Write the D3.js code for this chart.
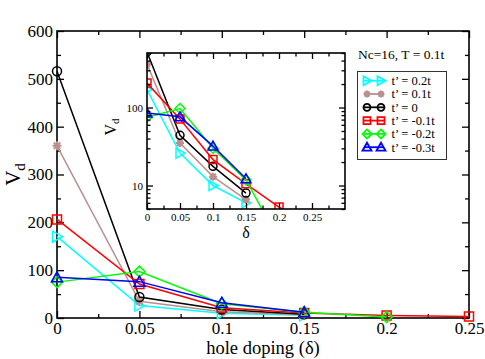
<!DOCTYPE html>
<html>
<head>
<meta charset="utf-8">
<script src="https://cdn.jsdelivr.net/npm/d3@7"></script>
<style>
  body { margin: 0; background: #fff; }
  svg { font-family: "Liberation Serif", "DejaVu Serif", serif; }
</style>
</head>
<body>
<div id="chart"></div>
<script>
// doping values for each series
const dopingShort = [0, 0.05, 0.1, 0.15];
const dopingGreen = [0, 0.05, 0.1, 0.15, 0.2];
const dopingRed = [0, 0.05, 0.1, 0.15, 0.2, 0.25];

const vdTp02 = [170, 26, 10, 6];
const vdTp01 = [360, 35, 13, 6.6];
const vdTp0 = [516, 44, 17.6, 8];
const vdTm01 = [206, 71, 21.5, 10.5, 5.3, 3];
const vdTm02 = [75, 97, 30, 11.8, 2];
const vdTm03 = [85, 76, 32, 12.2];

const seriesLabels = ["t\u2019 = 0.2t", "t\u2019 = 0.1t", "t\u2019 = 0", "t\u2019 = -0.1t", "t\u2019 = -0.2t", "t\u2019 = -0.3t"];

const mainXTicks = [0, 0.05, 0.1, 0.15, 0.2, 0.25];
const mainYTicks = [0, 100, 200, 300, 400, 500, 600];
const insetXTicks = [0, 0.05, 0.1, 0.15, 0.2, 0.25];
const insetYTicks = [10, 100];

const series = [
    { name: seriesLabels[0], x: dopingShort, y: vdTp02, color: "#00ffff", sym: "triR" },
    { name: seriesLabels[1], x: dopingShort, y: vdTp01, color: "#bc8f8f", sym: "star" },
    { name: seriesLabels[2], x: dopingShort, y: vdTp0, color: "#000000", sym: "circle" },
    { name: seriesLabels[3], x: dopingRed, y: vdTm01, color: "#ff0000", sym: "square" },
    { name: seriesLabels[4], x: dopingGreen, y: vdTm02, color: "#00ff00", sym: "diamond" },
    { name: seriesLabels[5], x: dopingShort, y: vdTm03, color: "#0000ff", sym: "triU" }
];

const width = 485, height = 359;
const svg = d3.select("#chart").append("svg")
    .attr("width", width)
    .attr("height", height);

function symbolPath(sym, s) {
    const h = s / 2;
    switch (sym) {
        case "circle": return `M${-h},0A${h},${h} 0 1,0 ${h},0A${h},${h} 0 1,0 ${-h},0Z`;
        case "square": return `M${-h},${-h}H${h}V${h}H${-h}Z`;
        case "diamond": return `M0,${-h - 1}L${h + 1},0L0,${h + 1}L${-h - 1},0Z`;
        case "triU": return `M0,${-h - 1}L${h + 1},${h}L${-h - 1},${h}Z`;
        case "triR": return `M${h + 1},0L${-h},${-h - 1}L${-h},${h + 1}Z`;
        case "star": {
            const d = h * 0.72;
            return `M0,${-h}V${h}M${-h},0H${h}M${-d},${-d}L${d},${d}M${-d},${d}L${d},${-d}`;
        }
    }
}

function drawSeries(g, xs, ys, size, clipId) {
    const line = d3.line().x(d => xs(d[0])).y(d => ys(d[1]));
    const grp = g.append("g");
    if (clipId) grp.attr("clip-path", `url(#${clipId})`);
    series.forEach(s => {
        const pts = s.x.map((v, i) => [v, s.y[i]]);
        grp.append("path")
            .attr("d", line(pts))
            .attr("fill", "none")
            .attr("stroke", s.color)
            .attr("stroke-width", 1.5);
        grp.selectAll(null)
            .data(pts.filter(p => ys.domain()[0] <= p[1] && p[1] <= ys.domain()[1] * 1.05))
            .enter().append("path")
            .attr("transform", p => `translate(${xs(p[0])},${ys(p[1])})`)
            .attr("d", symbolPath(s.sym, size))
            .attr("fill", "none")
            .attr("stroke", s.color)
            .attr("stroke-width", s.sym === "star" ? 2 : 1.5);
    });
}

// axes helper: inward ticks on all four sides
function frameAxes(g, xs, ys, opt) {
    const [x0, x1] = xs.range();
    const [y0, y1] = ys.range();
    g.append("g").attr("transform", `translate(0,${y0})`)
        .call(d3.axisBottom(xs).tickValues(opt.xMinor).tickSize(-opt.minor).tickFormat(""));
    g.append("g").attr("transform", `translate(0,${y0})`)
        .call(d3.axisBottom(xs).tickValues(opt.xTicks).tickSize(-opt.major).tickPadding(opt.xPad).tickFormat(opt.xFmt))
        .selectAll("text").attr("dy", "0.75em").style("font-size", opt.font + "px");
    g.append("g").attr("transform", `translate(0,${y1})`)
        .call(d3.axisTop(xs).tickValues(opt.xMinor).tickSize(-opt.minor).tickFormat(""));
    g.append("g").attr("transform", `translate(0,${y1})`)
        .call(d3.axisTop(xs).tickValues(opt.xTicksTop).tickSize(-opt.major).tickFormat(""));
    g.append("g").attr("transform", `translate(${x0},0)`)
        .call(d3.axisLeft(ys).tickValues(opt.yMinor).tickSize(-opt.minor).tickFormat(""));
    g.append("g").attr("transform", `translate(${x0},0)`)
        .call(d3.axisLeft(ys).tickValues(opt.yTicks).tickSize(-opt.major).tickPadding(opt.yPad).tickFormat(d3.format("d")))
        .selectAll("text").style("font-size", opt.font + "px");
    g.append("g").attr("transform", `translate(${x1},0)`)
        .call(d3.axisRight(ys).tickValues(opt.yMinor).tickSize(-opt.minor).tickFormat(""));
    g.append("g").attr("transform", `translate(${x1},0)`)
        .call(d3.axisRight(ys).tickValues(opt.yTicks).tickSize(-opt.major).tickFormat(""));
    g.selectAll(".domain").remove();
    g.selectAll(".tick line").attr("stroke", "#000").attr("stroke-width", 1.3);
    g.selectAll(".tick text").attr("fill", "#000").style("font-family", "Liberation Serif");
    g.append("rect")
        .attr("x", x0).attr("y", y1)
        .attr("width", x1 - x0).attr("height", y0 - y1)
        .attr("fill", "none").attr("stroke", "#000").attr("stroke-width", 1.6);
}

const fmtTick = d => d === 0 ? "0" : String(+d.toFixed(2));

// ---- main plot
const x = d3.scaleLinear().domain([0, 0.25]).range([57, 469]);
const y = d3.scaleLinear().domain([0, 600]).range([318, 31]);
const mainG = svg.append("g");

frameAxes(mainG, x, y, {
    xTicks: mainXTicks, xTicksTop: mainXTicks,
    xMinor: d3.range(0.025, 0.25, 0.05),
    yTicks: mainYTicks, yMinor: d3.range(50, 600, 100),
    major: 7, minor: 4, xPad: 3, yPad: 4, font: 17, xFmt: fmtTick
});
drawSeries(mainG, x, y, 9);

svg.append("text")
    .attr("x", (57 + 469) / 2).attr("y", 354)
    .attr("text-anchor", "middle")
    .style("font-size", "18.5px")
    .text("hole doping (\u03b4)");

const yl = svg.append("text")
    .attr("transform", `translate(20,${(31 + 318) / 2}) rotate(-90)`)
    .attr("text-anchor", "middle")
    .style("font-size", "21px");
yl.append("tspan").text("V");
yl.append("tspan").attr("dy", "0.3em").style("font-size", "15px").text("d");

// ---- inset
const ix = d3.scaleLinear().domain([0, 0.3]).range([147, 345]);
const iy = d3.scaleLog().domain([5, 500]).range([209, 53]);
const inG = svg.append("g");
inG.append("rect").attr("x", 147).attr("y", 53).attr("width", 198).attr("height", 156).attr("fill", "#fff");
svg.append("defs").append("clipPath").attr("id", "insetClip")
    .append("rect").attr("x", 147).attr("y", 53).attr("width", 198).attr("height", 156);

const logMinor = [];
[1, 10, 100].forEach(dec => d3.range(2, 10).forEach(k => {
    const v = k * dec;
    if (v > 5 && v < 500 && v !== 10 && v !== 100) logMinor.push(v);
}));
logMinor.push(5, 500);

drawSeries(inG, ix, iy, 8, "insetClip");
frameAxes(inG, ix, iy, {
    xTicks: insetXTicks, xTicksTop: insetXTicks,
    xMinor: d3.range(0.025, 0.3, 0.05),
    yTicks: insetYTicks, yMinor: logMinor,
    major: 6, minor: 3.5, xPad: 4, yPad: 4, font: 11, xFmt: fmtTick
});

svg.append("text")
    .attr("x", (147 + 345) / 2).attr("y", 238)
    .attr("text-anchor", "middle")
    .style("font-size", "16px")
    .text("\u03b4");

const iyl = svg.append("text")
    .attr("transform", `translate(116,127) rotate(-90)`)
    .attr("text-anchor", "middle")
    .style("font-size", "16px");
iyl.append("tspan").text("V");
iyl.append("tspan").attr("dy", "0.3em").style("font-size", "11px").text("d");

// ---- legend
svg.append("text")
    .attr("x", 358).attr("y", 59)
    .style("font-size", "13.5px")
    .text("Nc=16, T = 0.1t");

const leg = svg.append("g");
leg.append("rect")
    .attr("x", 357.5).attr("y", 71.5).attr("width", 89).attr("height", 88)
    .attr("fill", "#fff").attr("stroke", "#333").attr("stroke-width", 1);

series.forEach((s, i) => {
    const ry = 80.7 + i * 13.3;
    leg.append("line")
        .attr("x1", 364).attr("x2", 384).attr("y1", ry).attr("y2", ry)
        .attr("stroke", s.color).attr("stroke-width", 1.8);
    [367, 381].forEach(cx => {
        leg.append("path")
            .attr("transform", `translate(${cx},${ry})`)
            .attr("d", symbolPath(s.sym, 7))
            .attr("fill", "none")
            .attr("stroke", s.color)
            .attr("stroke-width", s.sym === "star" ? 2 : 1.8);
    });
    leg.append("text")
        .attr("x", 391.5).attr("y", ry).attr("dy", "0.35em")
        .style("font-size", "12.5px")
        .text(s.name);
});
</script>
</body>
</html>
